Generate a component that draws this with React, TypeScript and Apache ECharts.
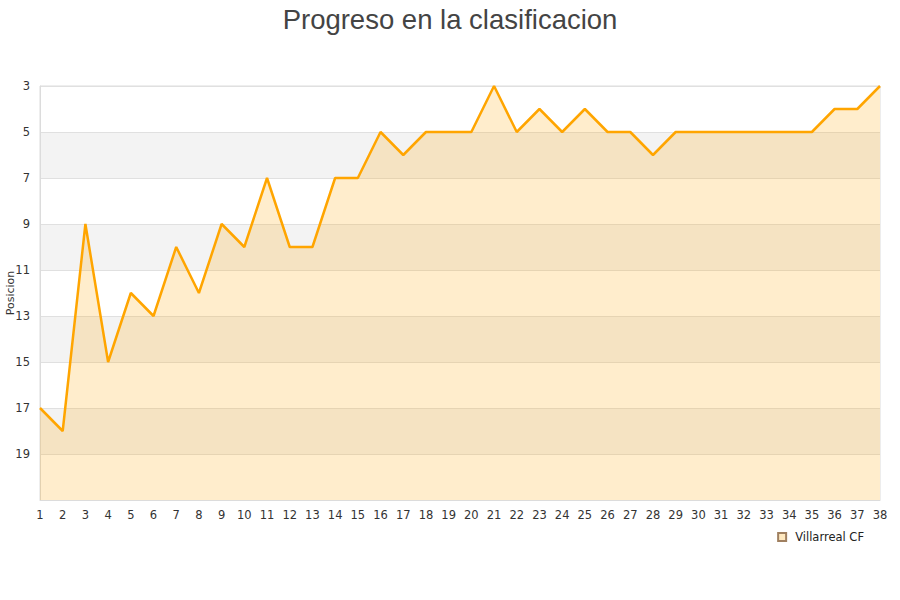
import React, { useEffect, useRef } from "react";
import * as echarts from "echarts";

const jornadas = Array.from({ length: 38 }, (_, i) => String(i + 1));
const posiciones = [17, 18, 9, 15, 12, 13, 10, 12, 9, 10, 7, 10, 10, 7, 7, 5, 6, 5, 5, 5, 3, 5, 4, 5, 4, 5, 5, 6, 5, 5, 5, 5, 5, 5, 5, 4, 4, 3];
const serieNombre = "Villarreal CF";
const titulo = "Progreso en la clasificacion";

export default function App() {
  const ref = useRef<HTMLDivElement>(null);
  useEffect(() => {
    const chart = echarts.init(ref.current!, null, { renderer: "svg" });
    chart.setOption({
      animation: false,
      backgroundColor: "#ffffff",
      title: {
        text: titulo,
        left: "center",
        top: 0,
        textStyle: { fontFamily: "Liberation Sans", fontSize: 27.5, fontWeight: "normal", color: "#444" },
      },
      grid: {
        left: 40, right: 20, top: 86, bottom: 100,
        outerBoundsMode: "none", containLabel: false,
        show: true, borderColor: "#dcdcdc", borderWidth: 1, backgroundColor: "transparent",
      },
      legend: {
        data: [{ name: serieNombre, icon: "rect" }],
        right: 31,
        top: 526,
        itemWidth: 8,
        itemHeight: 8,
        itemGap: 5,
        textStyle: { fontFamily: "DejaVu Sans", fontSize: 11.5, color: "#222", padding: [0, 0, 0, 4] },
      },
      xAxis: {
        type: "category",
        data: jornadas,
        boundaryGap: false,
        axisLine: { show: true, lineStyle: { color: "#dcdcdc" } },
        axisTick: { show: false },
        axisLabel: { interval: 0, fontFamily: "DejaVu Sans", fontSize: 11.5, color: "#333", margin: 9 },
        splitLine: { show: false },
      },
      yAxis: {
        type: "value",
        inverse: true,
        min: 3,
        max: 21,
        interval: 2,
        name: "Posicion",
        nameLocation: "middle",
        nameGap: 24,
        nameMoveOverlap: false,
        nameTextStyle: { fontFamily: "DejaVu Sans", fontSize: 11, color: "#333" },
        axisLine: { show: true, lineStyle: { color: "#dcdcdc" } },
        axisTick: { show: false },
        axisLabel: {
          fontFamily: "DejaVu Sans",
          fontSize: 11.5,
          color: "#333",
          margin: 10,
          formatter: (v: number) => (v === 21 ? "" : String(v)),
        },
        splitLine: { show: true, lineStyle: { color: "#e0e0e0" } },
        splitArea: { show: true, areaStyle: { color: ["#ffffff", "#f3f3f3"] } },
      },
      series: [
        {
          name: serieNombre,
          type: "line",
          data: posiciones,
          symbol: "none",
          lineStyle: { color: "#ffa500", width: 2.5 },
          itemStyle: { color: "#ffe9c0", borderColor: "#a08060", borderWidth: 1 },
          areaStyle: { color: "rgba(255,165,0,0.2)", opacity: 1, origin: "end" },
        },
      ],
    });
    return () => chart.dispose();
  }, []);
  return <div ref={ref} style={{ width: 900, height: 600, position: "absolute", left: 0, top: 0 }} />;
}
